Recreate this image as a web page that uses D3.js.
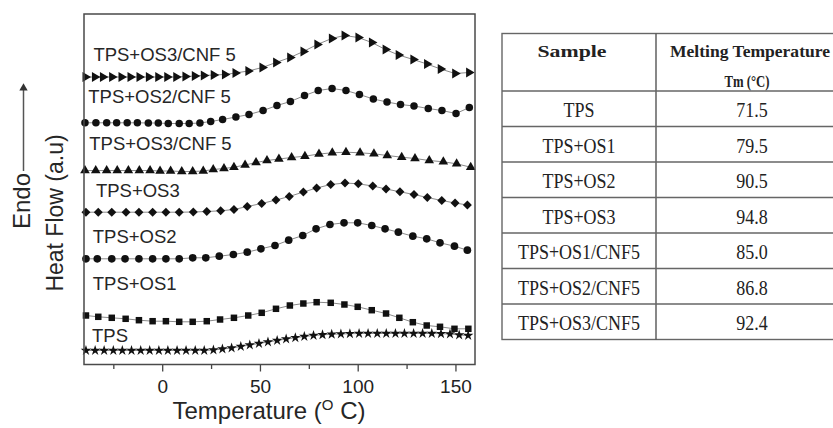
<!DOCTYPE html>
<html>
<head>
<meta charset="utf-8">
<script src="https://cdn.jsdelivr.net/npm/d3@7"></script>
<style>
	body { margin: 0; background: #fff; }
	svg { display: block; }
</style>
</head>
<body>
<svg id="chart" width="833" height="428"></svg>
<script>
// DSC curves, heat flow in a.u.
let os3cnfTemp = [-39.3, -34.5, -30.4, -25.7, -20.9, -16.3, -11.7, -6.9, -2.1, 2.5, 7.1, 11.8, 16.6, 21.2, 26.3, 32.0, 37.4, 44.0, 51.2, 58.2, 65.4, 72.2, 79.3, 86.7, 93.2, 100.3, 107.2, 114.2, 120.9, 128.4, 135.4, 142.4, 149.8, 156.9];
let os3cnfFlow = [28.75, 28.75, 28.75, 28.75, 28.75, 28.75, 28.75, 28.75, 28.75, 28.75, 28.75, 28.8, 28.85, 28.9, 28.95, 29.0, 29.15, 29.35, 29.7, 30.2, 30.7, 31.3, 32.0, 32.6, 32.9, 32.7, 32.2, 31.5, 30.95, 30.5, 30.05, 29.55, 29.1, 29.2];

let os2cnfTemp = [-39.5, -33.9, -28.4, -23.3, -17.9, -12.7, -7.1, -2.0, 3.1, 8.7, 13.8, 19.3, 24.8, 30.9, 37.7, 44.4, 51.6, 58.7, 65.6, 72.8, 79.8, 86.9, 94.0, 100.9, 108.0, 115.0, 121.9, 128.8, 136.1, 143.1, 150.3, 157.1];
let os2cnfFlow = [24.17, 24.17, 24.17, 24.17, 24.17, 24.17, 24.15, 24.15, 24.1, 24.1, 24.1, 24.15, 24.3, 24.5, 24.75, 25.0, 25.4, 25.9, 26.3, 26.9, 27.4, 27.6, 27.4, 27.0, 26.55, 26.25, 26.0, 25.85, 25.6, 25.4, 25.1, 25.7];

let os1cnfTemp = [-39.5, -34.0, -28.4, -23.0, -17.3, -11.7, -6.2, -1.1, 4.3, 10.0, 15.6, 21.0, 26.1, 31.6, 36.7, 42.4, 48.0, 53.6, 59.7, 66.2, 73.0, 80.2, 87.0, 94.0, 101.2, 108.3, 115.1, 122.5, 129.3, 136.6, 143.8, 150.6, 157.8];
let os1cnfFlow = [19.4, 19.4, 19.4, 19.4, 19.4, 19.4, 19.4, 19.35, 19.35, 19.3, 19.3, 19.35, 19.5, 19.6, 19.73, 19.95, 20.2, 20.4, 20.55, 20.7, 20.83, 21.05, 21.17, 21.23, 21.17, 21.07, 20.9, 20.73, 20.6, 20.4, 20.27, 20.07, 19.73];

let os3Temp = [-39.0, -32.7, -25.8, -18.5, -11.9, -4.9, 1.9, 8.7, 15.9, 22.8, 29.9, 36.7, 43.5, 50.9, 58.2, 65.0, 72.2, 79.0, 86.2, 93.5, 100.3, 107.7, 114.5, 121.6, 128.8, 135.6, 143.0, 149.8, 156.1];
let os3Flow = [15.23, 15.23, 15.23, 15.23, 15.23, 15.23, 15.23, 15.23, 15.25, 15.3, 15.37, 15.5, 15.8, 16.1, 16.45, 16.8, 17.25, 17.65, 18.0, 18.15, 18.07, 17.85, 17.55, 17.27, 17.0, 16.7, 16.4, 16.15, 15.95];

let os2Temp = [-39.0, -33.2, -25.8, -19.0, -11.9, -4.9, 1.9, 8.7, 15.6, 22.3, 29.2, 36.4, 43.5, 50.5, 57.7, 64.7, 71.9, 78.7, 85.8, 93.0, 100.0, 107.2, 114.0, 120.8, 128.2, 135.3, 142.1, 149.5, 156.1];
let os2Flow = [10.57, 10.57, 10.57, 10.57, 10.57, 10.57, 10.57, 10.57, 10.67, 10.67, 10.83, 11.0, 11.23, 11.57, 11.9, 12.43, 12.9, 13.57, 14.0, 14.17, 14.17, 13.9, 13.57, 13.23, 12.83, 12.57, 12.17, 11.83, 11.43];

let os1Temp = [-39.0, -32.7, -25.8, -18.7, -11.9, -4.9, 1.9, 8.7, 15.6, 22.8, 29.6, 36.7, 44.0, 50.9, 58.2, 65.3, 72.2, 79.0, 86.2, 93.2, 100.0, 107.2, 114.5, 121.3, 128.2, 135.3, 142.1, 149.5, 156.6];
let os1Flow = [4.9, 4.77, 4.67, 4.57, 4.43, 4.33, 4.33, 4.27, 4.27, 4.33, 4.5, 4.67, 4.9, 5.17, 5.57, 5.9, 6.1, 6.23, 6.17, 6.0, 5.77, 5.43, 5.1, 4.67, 4.23, 3.9, 3.77, 3.57, 3.57];

let tpsTemp = [-39.0, -34.3, -29.7, -25.0, -20.4, -15.7, -11.0, -6.4, -1.7, 2.9, 7.6, 12.2, 16.9, 21.5, 26.2, 30.8, 35.5, 40.2, 44.8, 49.5, 54.1, 58.8, 63.4, 68.1, 72.7, 77.4, 82.0, 86.7, 91.4, 96.0, 100.7, 105.3, 110.0, 114.6, 119.3, 123.9, 128.6, 133.2, 137.9, 142.6, 147.2, 151.9, 156.5];
let tpsFlow = [1.4, 1.4, 1.4, 1.4, 1.4, 1.4, 1.4, 1.4, 1.4, 1.4, 1.4, 1.4, 1.4, 1.4, 1.45, 1.55, 1.65, 1.8, 1.95, 2.1, 2.25, 2.4, 2.55, 2.68, 2.8, 2.9, 2.97, 3.02, 3.05, 3.08, 3.1, 3.1, 3.1, 3.1, 3.1, 3.1, 3.1, 3.1, 3.1, 3.08, 3.05, 2.95, 2.9];

// curve labels as printed in the figure (third one reads OS3 in the original)
let curveLabels = ['TPS+OS3/CNF 5', 'TPS+OS2/CNF 5', 'TPS+OS3/CNF 5', 'TPS+OS3', 'TPS+OS2', 'TPS+OS1', 'TPS'];
let labelAt = [[-35.2, 30.35], [-37.8, 26.12], [-37.3, 21.45], [-33.9, 16.75], [-35.5, 12.12], [-35.5, 7.45], [-35.9, 2.25]];

let xTicks = [0, 50, 100, 150];
let xMinorTicks = [-25, 25, 75, 125];

// table
let tableHead = ['Sample', 'Melting Temperature', 'Tm (°C)'];
let tableSamples = ['TPS', 'TPS+OS1', 'TPS+OS2', 'TPS+OS3', 'TPS+OS1/CNF5', 'TPS+OS2/CNF5', 'TPS+OS3/CNF5'];
let tableTm = ['71.5', '79.5', '90.5', '94.8', '85.0', '86.8', '92.4'];

let series = [
	{ 'temp': os3cnfTemp, 'flow': os3cnfFlow, 'symbol': d3.symbolTriangle, 'size': 42, 'rotate': 90 },
	{ 'temp': os2cnfTemp, 'flow': os2cnfFlow, 'symbol': d3.symbolCircle, 'size': 44, 'rotate': 0 },
	{ 'temp': os1cnfTemp, 'flow': os1cnfFlow, 'symbol': d3.symbolTriangle, 'size': 40, 'rotate': 0 },
	{ 'temp': os3Temp, 'flow': os3Flow, 'symbol': d3.symbolSquare, 'size': 40, 'rotate': 45 },
	{ 'temp': os2Temp, 'flow': os2Flow, 'symbol': d3.symbolCircle, 'size': 46, 'rotate': 0 },
	{ 'temp': os1Temp, 'flow': os1Flow, 'symbol': d3.symbolSquare, 'size': 42, 'rotate': 0 },
	{ 'temp': tpsTemp, 'flow': tpsFlow, 'symbol': d3.symbolStar, 'size': 34, 'rotate': 0 }
];

let svg = d3.select('#chart');
svg.append('rect').attr('width', 833).attr('height', 428).attr('fill', '#fff');

let margin = { 'top': 14, 'right': 358, 'bottom': 63.5, 'left': 84 };
let width = 833 - margin.left - margin.right;
let height = 428 - margin.top - margin.bottom;

let chart = svg
	.append('g')
	.attr('transform', 'translate(' + margin.left + ', ' + margin.top + ')');

let x = d3
	.scaleLinear()
	.domain([-40, 160])
	.range([0, width]);

let y = d3
	.scaleLinear()
	.domain([0, 35.05])
	.range([height, 0]);

let font = 'Liberation Sans, Arial, sans-serif';
let serif = 'Liberation Serif, Times New Roman, serif';

// x axis, ticks outward
let xAxis = d3.axisBottom(x).tickValues(xTicks).tickSize(7).tickPadding(8);
let gx = chart
	.append('g')
	.attr('transform', 'translate(0, ' + height + ')')
	.call(xAxis);
gx.select('.domain').remove();
gx.selectAll('line').attr('stroke', '#444').attr('stroke-width', 1.3);
gx.selectAll('text')
	.attr('font-family', font)
	.attr('font-size', '19px')
	.attr('fill', '#222');

let gxMinor = chart
	.append('g')
	.attr('transform', 'translate(0, ' + height + ')')
	.call(d3.axisBottom(x).tickValues(xMinorTicks).tickSize(4.5).tickFormat(''));
gxMinor.select('.domain').remove();
gxMinor.selectAll('line').attr('stroke', '#444').attr('stroke-width', 1.3);

// curves
series.map(function(s) {
	let pts = s.temp.map((t, i) => [t, s.flow[i]]);

	let line = d3.line()
		.x(d => x(d[0]))
		.y(d => y(d[1]));

	chart
		.append('path')
		.datum(pts)
		.attr('fill', 'none')
		.attr('stroke', '#8a8a8a')
		.attr('stroke-width', 1)
		.attr('d', line);

	chart
		.selectAll(null)
		.data(pts)
		.enter()
		.append('path')
		.attr('d', d3.symbol().type(s.symbol).size(s.size))
		.attr('transform', d => 'translate(' + x(d[0]) + ', ' + y(d[1]) + ') rotate(' + s.rotate + ')')
		.attr('fill', '#111');
});

// labels on curves
curveLabels.map(function(txt, i) {
	chart
		.append('text')
		.attr('x', x(labelAt[i][0]))
		.attr('y', y(labelAt[i][1]))
		.attr('font-family', font)
		.attr('font-size', '18.5px')
		.attr('fill', '#262626')
		.text(txt);
});

// frame
chart
	.append('rect')
	.attr('width', width)
	.attr('height', height)
	.attr('fill', 'none')
	.attr('stroke', '#4a4a4a')
	.attr('stroke-width', 1.5);

// axis titles
let xTitle = svg
	.append('text')
	.attr('x', 269)
	.attr('y', 419)
	.attr('text-anchor', 'middle')
	.attr('font-family', font)
	.attr('font-size', '24px')
	.attr('fill', '#262626');
xTitle.append('tspan').text('Temperature (');
xTitle.append('tspan').attr('font-size', '15px').attr('dy', -9).text('O');
xTitle.append('tspan').attr('dy', 9).text(' C)');

svg.append('text')
	.attr('transform', 'translate(63, 213) rotate(-90)')
	.attr('text-anchor', 'middle')
	.attr('font-family', font)
	.attr('font-size', '23px')
	.attr('fill', '#262626')
	.text('Heat Flow (a.u)');

svg.append('text')
	.attr('transform', 'translate(30, 201) rotate(-90)')
	.attr('text-anchor', 'middle')
	.attr('font-family', font)
	.attr('font-size', '24px')
	.attr('fill', '#262626')
	.text('Endo');

// endo arrow
svg.append('line')
	.attr('x1', 23.5).attr('y1', 171)
	.attr('x2', 23.5).attr('y2', 90)
	.attr('stroke', '#555')
	.attr('stroke-width', 1.5);
svg.append('path')
	.attr('d', d3.symbol().type(d3.symbolTriangle).size(30))
	.attr('transform', 'translate(23.5, 88)')
	.attr('fill', '#333');

// table on the right
let tLeft = 502, tMid = 656, tRight = 848;
let headTop = 33.5, headBottom = 91, rowH = 35.5;
let rowY = d3.range(tableSamples.length + 1).map(i => headBottom + i * rowH);

let table = svg.append('g');
table.append('rect')
	.attr('x', tLeft).attr('y', headTop)
	.attr('width', tRight - tLeft).attr('height', rowY[rowY.length - 1] - headTop)
	.attr('fill', 'none').attr('stroke', '#666').attr('stroke-width', 1.4);
table.append('line')
	.attr('x1', tMid).attr('x2', tMid)
	.attr('y1', headTop).attr('y2', rowY[rowY.length - 1])
	.attr('stroke', '#555').attr('stroke-width', 1.4);
table.selectAll(null)
	.data(rowY.slice(0, -1))
	.enter()
	.append('line')
	.attr('x1', tLeft).attr('x2', tRight)
	.attr('y1', d => d).attr('y2', d => d)
	.attr('stroke', '#666').attr('stroke-width', 1.4);

// header cells: [text, centre x, baseline, width]
let headCells = [[tableHead[0], 572, 56.5, 69], [tableHead[1], 750, 56.5, 160], [tableHead[2], 747, 87, 45]];
headCells.map(function(c) {
	table.append('text')
		.attr('x', c[1]).attr('y', c[2])
		.attr('text-anchor', 'middle')
		.attr('textLength', c[3]).attr('lengthAdjust', 'spacingAndGlyphs')
		.attr('font-family', serif).attr('font-weight', 'bold').attr('font-size', '17px').attr('fill', '#222')
		.text(c[0]);
});

tableSamples.map(function(name, i) {
	table.append('text')
		.attr('transform', 'translate(' + ((tLeft + tMid) / 2) + ', ' + (rowY[i] + 26) + ') scale(1, 1.12)')
		.attr('text-anchor', 'middle')
		.attr('font-family', serif).attr('font-size', '18px').attr('fill', '#222')
		.text(name);
	table.append('text')
		.attr('transform', 'translate(752, ' + (rowY[i] + 26) + ') scale(1, 1.12)')
		.attr('text-anchor', 'middle')
		.attr('font-family', serif).attr('font-size', '18px').attr('fill', '#222')
		.text(tableTm[i]);
});
</script>
</body>
</html>
